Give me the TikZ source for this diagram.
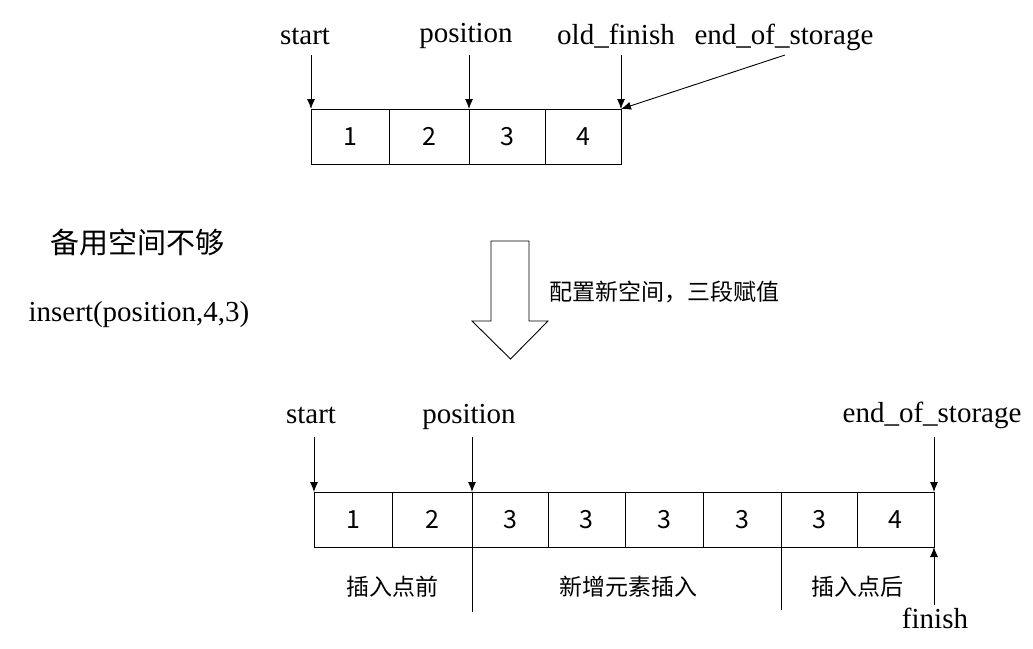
\documentclass[tikz,border=0pt]{standalone}
\usepackage{fontspec}
\setmainfont{Liberation Serif}
\newfontfamily\cjk{Noto Sans CJK SC}
\usetikzlibrary{arrows.meta}
\tikzset{
  cell/.style={draw, line width=0.9pt, minimum height=55pt, inner sep=0pt, outer sep=0pt,
    font=\cjk\fontsize{25}{25}\selectfont},
  lbl/.style={font=\fontsize{29}{29}\selectfont, anchor=base, inner sep=0pt},
  zh/.style={font=\cjk\fontsize{23}{23}\selectfont, inner sep=0pt},
  ptr/.style={line width=0.9pt, -{Latex[length=10pt,width=8pt]}},
  sep/.style={line width=0.9pt},
}
\begin{document}
\begin{tikzpicture}[x=1pt,y=-1pt]
\useasboundingbox (0,0) rectangle (1033,648);
% top array
\node[cell, minimum width=78pt] (t1) at (350,136.5) {1};
\node[cell, minimum width=80pt] (t2) at (429,136.5) {2};
\node[cell, minimum width=76pt] (t3) at (507,136.5) {3};
\node[cell, minimum width=76pt] (t4) at (583,136.5) {4};
% top labels
\node[lbl] (lstart) at (305,44) {start};
\node[lbl] (lpos) at (466,42) {position};
\node[lbl] (lold) at (616,44) {old\_finish};
\node[lbl] (lend) at (784,44) {end\_of\_storage};
\coordinate (cs) at (311,55);
\coordinate (cp) at (469,55);
\coordinate (co) at (621,55);
\coordinate (ce) at (785,55);
\draw[ptr] (cs) -- (t1.north west);
\draw[ptr] (cp) -- (t3.north west);
\draw[ptr] (co) -- (t4.north east);
\draw[ptr] (ce) -- (t4.north east);
% left texts
\node[font=\cjk\fontsize{29}{29}\selectfont, inner sep=0pt] (lack) at (137,242) {备用空间不够};
\node[lbl] (ins) at (139,321) {insert(position,4,3)};
% big hollow arrow
\draw[line width=0.9pt] (491,241) -- (529,241) -- (529,321) -- (548,321) -- (510.5,359)
  -- (472,321) -- (491,321) -- cycle;
\node[zh, anchor=west] (cfg) at (549,292) {配置新空间，三段赋值};
% bottom array
\node[cell, minimum width=78pt] (b1) at (353,519.5) {1};
\node[cell, minimum width=80pt] (b2) at (432,519.5) {2};
\node[cell, minimum width=76pt] (b3) at (510,519.5) {3};
\node[cell, minimum width=77pt] (b4) at (586.5,519.5) {3};
\node[cell, minimum width=78pt] (b5) at (664,519.5) {3};
\node[cell, minimum width=78pt] (b6) at (742,519.5) {3};
\node[cell, minimum width=76pt] (b7) at (819,519.5) {3};
\node[cell, minimum width=77pt] (b8) at (895.5,519.5) {4};
% bottom labels
\node[lbl] (bstart) at (311,423) {start};
\node[lbl] (bpos) at (469,423) {position};
\node[lbl] (bend) at (932,422) {end\_of\_storage};
\node[lbl] (bfin) at (935,628) {finish};
\coordinate (ds) at (314,437);
\coordinate (dp) at (472,437);
\coordinate (de) at (934,437);
\coordinate (df) at (934,605);
\draw[ptr] (ds) -- (b1.north west);
\draw[ptr] (dp) -- (b3.north west);
\draw[ptr] (de) -- (b8.north east);
\draw[ptr] (df) -- (b8.south east);
% separators
\coordinate (s1) at (472,612);
\coordinate (s2) at (781,610);
\draw[sep] (b3.south west) -- (s1);
\draw[sep] (b7.south west) -- (s2);
\node[zh] (z1) at (392,587) {插入点前};
\node[zh] (z2) at (628,587) {新增元素插入};
\node[zh] (z3) at (857,587) {插入点后};
\end{tikzpicture}
\end{document}
